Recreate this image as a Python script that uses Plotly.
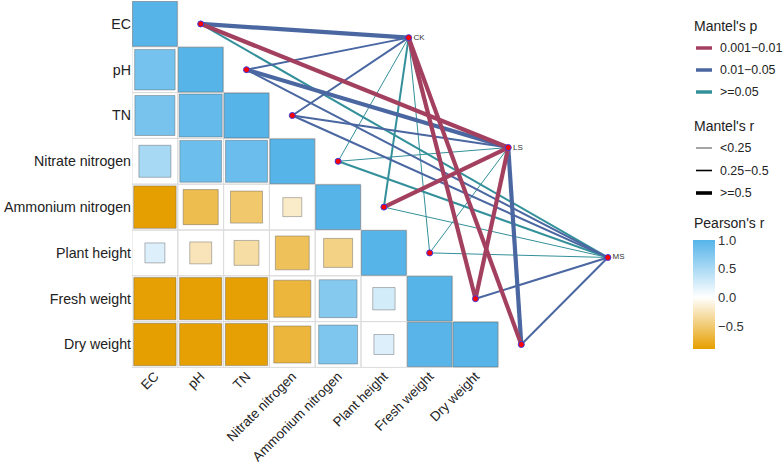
import numpy as np
import plotly.graph_objects as go

# ---------------- data ----------------
variables = ["EC", "pH", "TN", "Nitrate nitrogen", "Ammonium nitrogen",
             "Plant height", "Fresh weight", "Dry weight"]

# Pearson's r, lower triangle row by row (row i holds columns 0..i)
pearson_rows = [
    [1.00],
    [0.82, 1.00],
    [0.80, 0.92, 1.00],
    [0.52, 0.87, 0.88, 1.00],
    [-0.90, -0.62, -0.52, -0.19, 1.00],
    [0.21, -0.25, -0.32, -0.58, -0.43, 1.00],
    [-0.89, -0.89, -0.89, -0.69, 0.72, 0.26, 1.00],
    [-0.90, -0.89, -0.89, -0.69, 0.76, 0.21, 0.98, 1.00],
]

groups = ["CK", "LS", "MS"]
mantel_r_CK = [0.55, 0.35, 0.30, 0.10, 0.30, 0.06, 0.60, 0.62]
mantel_r_LS = [0.56, 0.53, 0.33, 0.12, 0.55, 0.08, 0.60, 0.52]
mantel_r_MS = [0.30, 0.32, 0.34, 0.28, 0.12, 0.09, 0.30, 0.35]
mantel_p_CK = [0.020, 0.030, 0.040, 0.300, 0.080, 0.400, 0.005, 0.004]
mantel_p_LS = [0.006, 0.020, 0.030, 0.500, 0.008, 0.600, 0.003, 0.020]
mantel_p_MS = [0.100, 0.030, 0.040, 0.120, 0.300, 0.500, 0.020, 0.030]

p_labels = ["0.001\u22120.01", "0.01\u22120.05", ">=0.05"]
r_labels = ["<0.25", "0.25\u22120.5", ">=0.5"]
colorbar_ticks = [-0.5, 0.0, 0.5, 1.0]

# ---------------- styles / layout constants ----------------
FONT = "Liberation Sans"
P_COLORS = ["#A3405F", "#4A67A2", "#33909A"]
R_WIDTHS = [1.0, 2.0, 4.2]
ORANGE, BLUE = "#E69F00", "#56B4E9"
W, H = 784, 469
ML, MR, MT, MB = 132, 150, 1, 100
PX = 45.8  # pixels per grid unit
plot_w = W - ML - MR
plot_h = H - MT - MB
x_range = [-0.5, -0.5 + plot_w / PX]
y_range = [-0.5 + plot_h / PX, -0.5]

# positions of the group nodes (network layout)
node_start = (5.54, 0.30)
node_step = (2.175, 2.40)

n = len(variables)
mantel_r = {"CK": mantel_r_CK, "LS": mantel_r_LS, "MS": mantel_r_MS}
mantel_p = {"CK": mantel_p_CK, "LS": mantel_p_LS, "MS": mantel_p_MS}


def p_class(p):
    return 0 if p < 0.01 else (1 if p < 0.05 else 2)


def r_class(r):
    return 0 if r < 0.25 else (1 if r < 0.5 else 2)


fig = go.Figure()

# ---------------- grid cell borders ----------------
shapes = []
for i in range(n):
    for j in range(i + 1):
        shapes.append(dict(type="rect", xref="x", yref="y",
                           x0=j - 0.5, x1=j + 0.5, y0=i - 0.5, y1=i + 0.5,
                           line=dict(color="#dcdcdc", width=1),
                           fillcolor="rgba(0,0,0,0)", layer="below"))

# ---------------- correlation squares ----------------
sx, sy, sr = [], [], []
for i, row in enumerate(pearson_rows):
    for j, r in enumerate(row):
        sx.append(j)
        sy.append(i)
        sr.append(r)
sr = np.array(sr)
rmin, rmax = float(sr.min()), float(sr.max())
mid = (0 - rmin) / (rmax - rmin)
cscale = [[0, ORANGE], [mid, "#FFFFFF"], [1, BLUE]]
sizes = np.sqrt(np.abs(sr)) * PX - 1

fig.add_trace(go.Scatter(
    x=sx, y=sy, mode="markers", hoverinfo="skip", showlegend=False,
    marker=dict(symbol="square", size=sizes, color=sr, colorscale=cscale,
                cmin=rmin, cmax=rmax, opacity=1,
                line=dict(color="rgba(95,95,95,0.55)", width=0.8),
                showscale=True,
                colorbar=dict(
                    x=(693 - ML) / plot_w, xanchor="left", xpad=0,
                    y=1 - (240 - MT) / plot_h, yanchor="top", ypad=0,
                    lenmode="pixels", len=109,
                    thicknessmode="pixels", thickness=22,
                    outlinewidth=0, ticks="",
                    tickvals=colorbar_ticks, tickformat=".1f",
                    tickfont=dict(family=FONT, size=13, color="#333333"),
                ))))

# ---------------- Mantel links ----------------
gpos = {g: (node_start[0] + k * node_step[0], node_start[1] + k * node_step[1])
        for k, g in enumerate(groups)}
end_x = [i + 1 for i in range(n)]
end_y = [i for i in range(n)]

for pc in [2, 1, 0]:
    for rc in range(3):
        xs, ys = [], []
        for g in groups:
            for v in range(n):
                if p_class(mantel_p[g][v]) == pc and r_class(mantel_r[g][v]) == rc:
                    xs += [gpos[g][0], end_x[v], None]
                    ys += [gpos[g][1], end_y[v], None]
        if xs:
            fig.add_trace(go.Scatter(x=xs, y=ys, mode="lines", hoverinfo="skip",
                                     showlegend=False,
                                     line=dict(color=P_COLORS[pc], width=R_WIDTHS[rc])))

# endpoints and group nodes
fig.add_trace(go.Scatter(
    x=end_x, y=end_y, mode="markers", showlegend=False, hoverinfo="skip",
    marker=dict(size=6, color="#FF0000", opacity=1,
                line=dict(color="#3A3AE0", width=1))))
fig.add_trace(go.Scatter(
    x=[gpos[g][0] for g in groups], y=[gpos[g][1] for g in groups],
    mode="markers+text", text=groups, textposition="middle right",
    textfont=dict(family=FONT, size=8, color="#333333"),
    showlegend=False, hoverinfo="skip", cliponaxis=False,
    marker=dict(size=6, color="#FF0000", opacity=1,
                line=dict(color="#3A3AE0", width=1))))

# ---------------- manual legend ----------------
def pxx(px):
    return (px - ML) / plot_w


def pyy(py):
    return 1 - (py - MT) / plot_h


annotations = []


def add_text(txt, px, py, size):
    annotations.append(dict(text=txt, xref="paper", yref="paper",
                            x=pxx(px), y=pyy(py), xanchor="left", yanchor="middle",
                            showarrow=False,
                            font=dict(family=FONT, size=size, color="#222222")))


add_text("Mantel's p", 692, 26, 14)
for k, lab in enumerate(p_labels):
    yy = 48 + 22 * k
    shapes.append(dict(type="line", xref="paper", yref="paper",
                       x0=pxx(696), x1=pxx(712), y0=pyy(yy), y1=pyy(yy),
                       line=dict(color=P_COLORS[k], width=3.5)))
    add_text(lab, 718, yy, 12.4)

add_text("Mantel's r", 692, 126, 14)
for k, lab in enumerate(r_labels):
    yy = 148 + 22.5 * k
    shapes.append(dict(type="line", xref="paper", yref="paper",
                       x0=pxx(696), x1=pxx(712), y0=pyy(yy), y1=pyy(yy),
                       line=dict(color="#000000", width=[0.7, 1.6, 3.6][k])))
    add_text(lab, 718, yy, 12.4)

add_text("Pearson's r", 692, 223, 14)

fig.update_layout(
    width=W, height=H, autosize=False,
    margin=dict(l=ML, r=MR, t=MT, b=MB, autoexpand=False),
    plot_bgcolor="white", paper_bgcolor="white",
    shapes=shapes, annotations=annotations,
    font=dict(family=FONT, size=13, color="#222222"),
    xaxis=dict(range=x_range, tickvals=list(range(n)), ticktext=variables,
               tickangle=-45, showgrid=False, zeroline=False, showline=False,
               automargin=False, ticklabelstandoff=-4,
               ticks="", tickfont=dict(family=FONT, size=13.4, color="#222222")),
    yaxis=dict(range=y_range, tickvals=list(range(n)), ticktext=variables,
               showgrid=False, zeroline=False, showline=False, ticks="",
               automargin=False,
               tickfont=dict(family=FONT, size=14.2, color="#222222")),
)

fig.write_html("out.html")
